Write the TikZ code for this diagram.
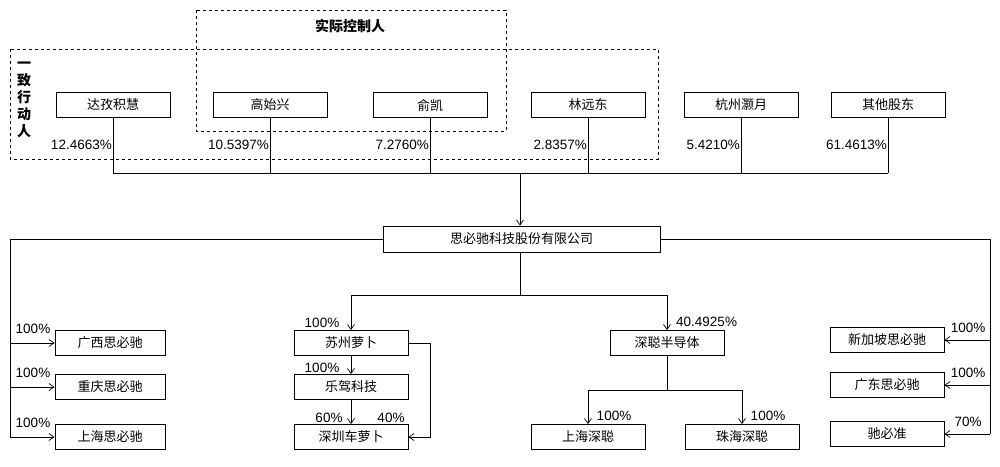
\documentclass[tikz,border=0pt]{standalone}
\usepackage{fontspec}
\setmainfont{Liberation Sans}
\newfontfamily\cjk{Noto Sans CJK SC}
\usetikzlibrary{arrows.meta}
\begin{document}
\begin{tikzpicture}[x=1pt,y=-1pt,
 box/.style={draw,line width=0.9pt,minimum width=114pt,minimum height=25pt,inner sep=0pt,font=\cjk\fontsize{13}{13}\selectfont},
 pct/.style={font=\fontsize{13.5}{13.5}\selectfont,inner sep=0pt},
 ln/.style={line width=0.7pt},
 arr/.style={ln,-{Straight Barb[length=5pt,width=7pt]}},
 dbox/.style={draw,dashed,line width=0.8pt}]
\useasboundingbox (0,0) rectangle (1000,466);
\draw[dbox] (196,10) rectangle (506,131);
\draw[dbox] (10,49) rectangle (658,159);
\node[font=\cjk\bfseries\fontsize{14}{14}\selectfont] (tc) at (350,26) {实际控制人};
\node[font=\cjk\bfseries\fontsize{14}{17}\selectfont,align=center,inner sep=0pt] (yz) at (24,100) {一\\致\\行\\动\\人};
\node[box] (a) at (113,105) {达孜积慧};
\node[box] (b) at (270,105) {高始兴};
\node[box] (c) at (430,105) {俞凯};
\node[box] (d) at (588,105) {林远东};
\node[box] (e) at (741,105) {杭州灏月};
\node[box] (f) at (888,105) {其他股东};
\node[pct,anchor=east] at (112,145) {12.4663\%};
\node[pct,anchor=east] at (269,145) {10.5397\%};
\node[pct,anchor=east] at (429,145) {7.2760\%};
\node[pct,anchor=east] at (587,145) {2.8357\%};
\node[pct,anchor=east] at (740,145) {5.4210\%};
\node[pct,anchor=east] at (887,145) {61.4613\%};
\coordinate (hl) at (113,173); \coordinate (hr) at (888,173); \coordinate (hm) at (520,173);
\foreach \n in {a,b,c,d,e,f} \draw[ln] (\n.south) -- (\n.south |- hl);
\draw[ln] (hl) -- (hr);
\node[box,minimum width=277pt,minimum height=26pt] (m) at (521.5,239) {思必驰科技股份有限公司};
\draw[arr] (hm) -- (m.north -| hm);
% left
\node[box,minimum width=110pt] (l1) at (110,343) {广西思必驰};
\node[box,minimum width=110pt] (l2) at (110,387) {重庆思必驰};
\node[box,minimum width=110pt] (l3) at (110,437) {上海思必驰};
\coordinate (lt) at (10,239); \coordinate (lb) at (10,437);
\draw[ln] (m.west) -- (lt) -- (lb);
\foreach \n/\y in {l1/343,l2/387,l3/437}{
 \draw[arr] (10,\y) -- (\n.west);
 \node[pct] at (33,\y-14) {100\%};}
% right
\node[box] (r1) at (887,340) {新加坡思必驰};
\node[box] (r2) at (887,385) {广东思必驰};
\node[box] (r3) at (887,434) {驰必准};
\draw[ln] (m.east) -- (990,239) -- (990,434);
\foreach \n/\y/\p in {r1/340/100\%,r2/385/100\%,r3/434/70\%}{
 \draw[arr] (990,\y) -- (\n.east);
 \node[pct] at (968,\y-12) {\p};}
% middle
\node[box] (s1) at (351,343) {苏州萝卜};
\node[box] (s2) at (351,387) {乐驾科技};
\node[box] (s3) at (351,437) {深圳车萝卜};
\node[box] (sc) at (667,343) {深聪半导体};
\coordinate (mm) at (520,295);
\draw[ln] (m.south -| mm) -- (mm);
\draw[arr] (mm) -| (s1.north);
\draw[arr] (mm) -| (sc.north);
\node[pct] at (322,323) {100\%};
\node[pct,anchor=west] at (676,322) {40.4925\%};
\draw[arr] (s1) -- (s2);
\node[pct] at (322,368) {100\%};
\draw[arr] (s2) -- (s3);
\node[pct] at (329,418) {60\%};
\node[pct] at (391,418) {40\%};
\draw[arr] (s1.east) -- (430,343) -- (430,437) -- (s3.east);
\node[box] (h1) at (588,437) {上海深聪};
\node[box] (h2) at (742,437) {珠海深聪};
\coordinate (sm) at (667,390);
\draw[ln] (sc.south) -- (sm);
\draw[arr] (sm) -| (h1.north);
\draw[arr] (sm) -| (h2.north);
\node[pct] at (614,416) {100\%};
\node[pct] at (768,416) {100\%};
\end{tikzpicture}
\end{document}
